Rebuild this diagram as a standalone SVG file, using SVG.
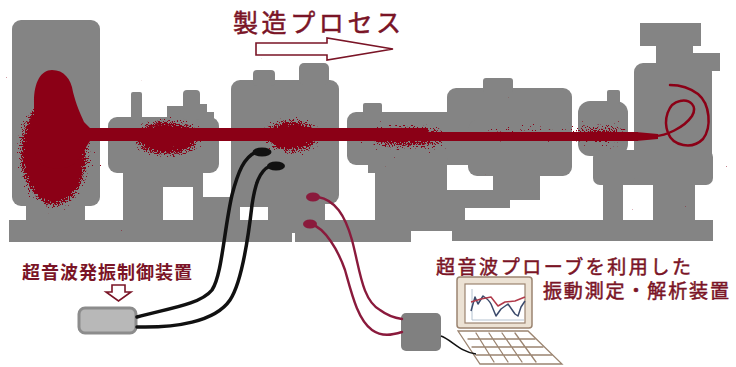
<svg xmlns="http://www.w3.org/2000/svg" width="736" height="367" viewBox="0 0 736 367">
  <style>
    .m { fill: #848484; }
    .txt { font-family: "Noto Sans CJK JP", "Noto Sans", sans-serif; fill: #7a1426; }
    .med { stroke: #7a1426; stroke-width: 0.5; }
    .beam { fill: #8b0016; }
    .cable { fill: none; stroke: #111; stroke-width: 3.5; stroke-linecap: round; }
    .probe { fill: none; stroke: #8a1a3c; stroke-width: 2.4; stroke-linecap: round; }
    .tip-b { fill: #111; }
    .tip-r { fill: #8a1a3c; }
    .lap { fill: none; stroke: #9b8470; stroke-width: 1.3; stroke-linecap: round; }
    .hollow { fill: #fff; stroke: #7a1426; stroke-width: 1.6; stroke-linejoin: miter; }
  </style>
  <defs>
    <!-- grainy scatter: density follows the blurred alpha of the source shapes -->
    <filter id="speckle" filterUnits="userSpaceOnUse" x="0" y="50" width="736" height="190">
      <feGaussianBlur in="SourceAlpha" stdDeviation="7" result="soft"/>
      <feTurbulence type="fractalNoise" baseFrequency="0.75" numOctaves="2" seed="7" result="noise"/>
      <feColorMatrix in="noise" type="matrix" values="0 0 0 0 0  0 0 0 0 0  0 0 0 0 0  1 0 0 0 0" result="na"/>
      <feComposite in="soft" in2="na" operator="arithmetic" k1="0" k2="1" k3="-1" k4="0.12" result="diff"/>
      <feComponentTransfer in="diff" result="mask">
        <feFuncA type="linear" slope="25" intercept="0"/>
      </feComponentTransfer>
      <feFlood flood-color="#8b0016" result="ink"/>
      <feComposite in="ink" in2="mask" operator="in"/>
    </filter>
  </defs>

  <rect width="736" height="367" fill="#fff"/>

  <!-- title -->
  <g id="title">
    <text class="txt med" x="233" y="32" font-size="25" textLength="168" lengthAdjust="spacing">製造プロセス</text>
    <path class="hollow" d="M256,43 H327 V38 L393,49 L327,60 V55 H256 Z"/>
  </g>

  <!-- production line machinery -->
  <g id="machine">
    <!-- common base -->
    <path class="m" d="M9,220 H713 V241 H452 V231 H411 V242 H295 V233 H292 V242 H9 Z"/>
    <!-- furnace -->
    <rect class="m" x="12" y="20" width="88" height="186" rx="9"/>
    <rect class="m" x="26" y="198" width="59" height="24"/>
    <!-- unit 2 -->
    <rect class="m" x="108" y="117" width="111" height="56" rx="9"/>
    <rect class="m" x="131" y="92" width="11" height="28" rx="2"/>
    <rect class="m" x="167" y="106" width="18" height="14"/>
    <rect class="m" x="183" y="90" width="17" height="30" rx="4"/>
    <rect class="m" x="199" y="104" width="8" height="16"/>
    <rect class="m" x="206" y="112" width="8" height="8"/>
    <rect class="m" x="123" y="165" width="80" height="22"/>
    <rect class="m" x="123" y="165" width="40" height="56"/>
    <rect class="m" x="193" y="170" width="10" height="51"/>
    <rect class="m" x="193" y="197" width="47" height="24"/>
    <!-- unit 3 -->
    <rect class="m" x="231" y="80" width="108" height="124" rx="9"/>
    <rect class="m" x="253" y="70" width="22" height="16" rx="4"/>
    <rect class="m" x="299" y="63" width="30" height="22" rx="5"/>
    <rect class="m" x="231" y="196" width="94" height="11"/>
    <rect class="m" x="268" y="196" width="57" height="25"/>
    <!-- unit 4 -->
    <rect class="m" x="347" y="112" width="125" height="53" rx="9"/>
    <rect class="m" x="363" y="103" width="19" height="12" rx="2"/>
    <rect class="m" x="368" y="155" width="20" height="18"/>
    <rect class="m" x="375" y="165" width="72" height="56"/>
    <rect class="m" x="375" y="190" width="135" height="18"/>
    <rect class="m" x="375" y="190" width="90" height="31"/>
    <!-- unit 5 -->
    <rect class="m" x="447" y="88" width="125" height="77" rx="9"/>
    <rect class="m" x="468" y="120" width="104" height="56" rx="9"/>
    <rect class="m" x="483" y="78" width="30" height="14" rx="3"/>
    <rect class="m" x="493" y="170" width="47" height="30"/>
    <!-- unit 6 -->
    <rect class="m" x="578" y="101" width="50" height="55" rx="12"/>
    <rect class="m" x="607" y="90" width="13" height="14" rx="2"/>
    <rect class="m" x="593" y="150" width="120" height="35" rx="7"/>
    <!-- winding tower -->
    <rect class="m" x="634" y="63" width="78" height="122" rx="9"/>
    <rect class="m" x="640" y="23" width="61" height="23"/>
    <rect class="m" x="656" y="44" width="37" height="22"/>
    <rect class="m" x="690" y="53" width="30" height="18"/>
    <rect class="m" x="603" y="180" width="20" height="41"/>
    <rect class="m" x="653" y="180" width="42" height="41"/>
  </g>

  <!-- scattered material inside the units -->
  <g id="scatter" filter="url(#speckle)">
    <ellipse cx="54" cy="152" rx="31" ry="52" fill="#000"/>
    <ellipse cx="167" cy="138" rx="31" ry="14" fill="#000"/>
    <ellipse cx="292" cy="136" rx="25" ry="13" fill="#000"/>
    <ellipse cx="408" cy="137" rx="42" ry="8" fill="#000" fill-opacity="0.8"/>
    <ellipse cx="520" cy="134" rx="60" ry="4" fill="#000" fill-opacity="0.55"/>
    <ellipse cx="600" cy="134" rx="32" ry="5" fill="#000" fill-opacity="0.85"/>
  </g>

  <!-- material stream -->
  <g id="stream">
    <path class="beam" d="M34,150 L34,102 C34,82 41,70 52,70 C64,70 71,79 73,92 C76,104 80,113 84,122 L90,128 L90,141 C84,150 80,158 74,164 C66,170 46,170 38,162 Z"/>
    <rect class="beam" x="86" y="128" width="342" height="13"/>
    <rect class="beam" x="426" y="132" width="212" height="9"/>
    <path class="beam" d="M636,132 L658,134 L658,139 L636,141 Z"/>
    <path fill="none" stroke="#8b0016" stroke-width="2.5" stroke-linecap="round" d="M655,136 C665,136 684,128 692,116 C698,106 690,99 680,101 C668,103 663,120 668,133 C673,146 692,150 703,139 C712,127 710,104 698,94 C690,88 680,85 670,85"/>
  </g>

  <!-- ultrasonic oscillation controller -->
  <g id="controller">
    <text class="txt" x="22" y="279" font-size="18" font-weight="bold" textLength="170" lengthAdjust="spacing">超音波発振制御装置</text>
    <path class="hollow" stroke-width="2" d="M112,285 H125 V292 H131 L118.5,301 L106,292 H112 Z"/>
    <rect x="79" y="308" width="57" height="25" rx="6" fill="#b8b8b8" stroke="#8c8c8c" stroke-width="3"/>
  </g>

  <!-- probe interface box -->
  <g id="probe-unit">
    <rect x="401" y="313" width="40" height="38" rx="5" fill="#808080"/>
  </g>

  <!-- measurement / analysis laptop -->
  <g id="laptop">
    <text class="txt med" x="436" y="274" font-size="19" textLength="255" lengthAdjust="spacing">超音波プローブを利用した</text>
    <text class="txt med" x="543" y="298" font-size="19" textLength="186" lengthAdjust="spacing">振動測定・解析装置</text>
    <rect x="457" y="277" width="75" height="51" rx="3" fill="#ece2d4" stroke="#9b8470" stroke-width="1.5"/>
    <rect x="465" y="284" width="60" height="39" fill="#fff" stroke="#9b8470" stroke-width="1.2"/>
    <path fill="none" stroke="#b4c2d0" stroke-width="1" d="M472,289 V320 H524"/>
    <path fill="none" stroke="#3b4a6b" stroke-width="1.5" stroke-linejoin="round" d="M471,311 L475,297 L478,304 L483,296 C486,298 489,300 491,304 L496,316 L501,309 L508,304 L515,314 L518,316 L521,307 L525,301"/>
    <path fill="none" stroke="#b13a4a" stroke-width="1.5" stroke-linejoin="round" d="M471,302 L481,299 L491,297 L498,306 L505,302 L515,301 L525,297"/>
    <path class="lap" d="M458,331 H528 L562,364 H480 Z"/>
    <path class="lap" d="M468,339 H535 M472,347 H543 M476,355 H552 M476,333 L494,362 M489,333 L508,362 M502,333 L522,362 M515,333 L536,362"/>
  </g>

  <!-- cables -->
  <g id="connectors">
    <path class="cable" d="M137,317 C165,309 200,305 212,290 C222,275 224,230 232,195 C238,172 244,157 256,152"/>
    <path class="cable" d="M137,327 C175,328 215,322 230,300 C242,282 248,240 252,205 C255,185 259,171 270,166"/>
    <ellipse class="tip-b" cx="262" cy="152" rx="9.5" ry="4.5"/>
    <ellipse class="tip-b" cx="276" cy="166" rx="9" ry="4.5"/>
    <path class="probe" d="M318,197 C335,200 345,215 352,240 C360,270 362,300 380,310 C388,316 395,318 402,319"/>
    <path class="probe" d="M311,224 C325,228 338,250 345,270 C352,295 358,320 372,330 C382,337 392,335 402,332"/>
    <ellipse class="tip-r" cx="313" cy="197" rx="7" ry="4.5"/>
    <ellipse class="tip-r" cx="310" cy="224" rx="7" ry="4.5"/>
    <path fill="none" stroke="#111" stroke-width="1.5" d="M441,336 C452,340 460,352 476,354"/>
  </g>
</svg>
